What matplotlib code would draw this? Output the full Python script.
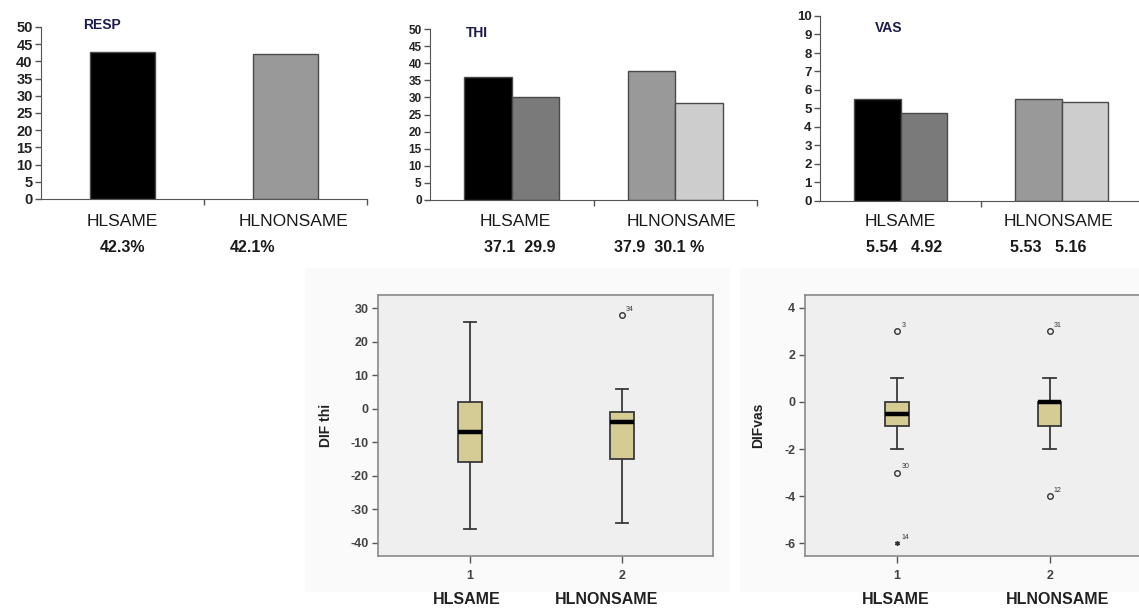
import matplotlib
matplotlib.use("Agg")
import matplotlib.pyplot as plt
from matplotlib.transforms import blended_transform_factory
from matplotlib.patches import Rectangle

plt.rcParams['font.family'] = ['Liberation Sans', 'DejaVu Sans']

# ---------------- data ----------------
groups = ['HLSAME', 'HLNONSAME']

resp_values = [42.7, 42.2]
resp_texts = ['42.3%', '42.1%']

thi_before = [36.0, 37.7]
thi_after = [30.1, 28.4]
thi_texts = ['37.1  29.9', '37.9  30.1 %']

vas_before = [5.5, 5.5]
vas_after = [4.76, 5.35]
vas_texts = ['5.54   4.92', '5.53   5.16']

box_ticklabels = ['1', '2']

thi_q1 = [-16, -15]
thi_med = [-7, -4]
thi_q3 = [2, -1]
thi_whislo = [-36, -34]
thi_whishi = [26, 6]
thi_outliers = [[], [28]]
thi_outlier_ids = [[], ['34']]
thi_extremes = [[], []]
thi_extreme_ids = [[], []]

vas_q1 = [-1, -1]
vas_med = [-0.5, 0]
vas_q3 = [0, 0]
vas_whislo = [-2, -2]
vas_whishi = [1, 1]
vas_outliers = [[3, -3], [3, -4]]
vas_outlier_ids = [['3', '30'], ['31', '12']]
vas_extremes = [[-6], []]
vas_extreme_ids = [['14'], []]

# ---------------- figure ----------------
W, H = 1139, 609
fig = plt.figure(figsize=(W / 100, H / 100), dpi=100)
fig.patch.set_facecolor('white')


def px_axes(x0, y_top, x1, y_bot):
    return fig.add_axes([x0 / W, 1 - y_bot / H, (x1 - x0) / W, (y_bot - y_top) / H])


BLACK = '#000000'
DARK = '#7a7a7a'
MID = '#999999'
LIGHT = '#cdcdcd'
EDGE = '#4a4a4a'
TITLE_C = '#1c1c4c'


def style_bar_axes(ax, ymax, step, tick_fs):
    ax.set_xlim(-0.5, 1.5)
    ax.set_ylim(0, ymax)
    for s in ['top', 'right']:
        ax.spines[s].set_visible(False)
    ax.spines['left'].set_bounds(0, ymax)
    ax.spines['left'].set_color('#555555')
    ax.spines['bottom'].set_color('#555555')
    ax.set_yticks(range(0, ymax + 1, step))
    ax.tick_params(axis='y', direction='out', length=4, width=1, color='#555555',
                   labelsize=tick_fs, pad=2)
    for lb in ax.get_yticklabels():
        lb.set_fontweight('bold')
        lb.set_color('#222222')
    ax.set_xticks([0.5, 1.5])
    ax.set_xticklabels([])
    ax.tick_params(axis='x', direction='out', length=4, width=1, color='#555555')
    ax.set_facecolor('none')


def label_groups(ax, xs_name, xs_val, names, vals, fs_name=12.5, fs_val=11.5):
    tr = blended_transform_factory(ax.transData, fig.transFigure)
    for x, n in zip(xs_name, names):
        ax.text(x, 1 - 222 / H, n, transform=tr, ha='center', va='center',
                fontsize=fs_name, color='#1a1a1a', clip_on=False)
    for x, v in zip(xs_val, vals):
        ax.text(x, 1 - 247 / H, v, transform=tr, ha='center', va='center',
                fontsize=fs_val, fontweight='bold', color='#1a1a1a', clip_on=False)


# ---- RESP ----
ax1 = px_axes(41, 27, 367, 199)
style_bar_axes(ax1, 50, 5, 10.5)
ax1.bar([0, 1], resp_values, width=0.4, color=[BLACK, MID], edgecolor=EDGE, linewidth=1)
ax1.text(83 / W, 1 - 25 / H, 'RESP', transform=fig.transFigure, ha='left', va='center',
         fontsize=10, fontweight='bold', color=TITLE_C)
label_groups(ax1, [0, 1.05], [0, 0.8], groups, resp_texts)

# ---- THI ----
ax2 = px_axes(430, 29, 757, 200)
style_bar_axes(ax2, 50, 5, 8.5)
bw = 0.29
ax2.bar([0 - bw / 2, 1 - bw / 2], thi_before, width=bw, color=[BLACK, MID],
        edgecolor=EDGE, linewidth=1)
ax2.bar([0 + bw / 2, 1 + bw / 2], thi_after, width=bw, color=[DARK, LIGHT],
        edgecolor=EDGE, linewidth=1)
ax2.text(466 / W, 1 - 33 / H, 'THI', transform=fig.transFigure, ha='left', va='center',
         fontsize=10, fontweight='bold', color=TITLE_C)
label_groups(ax2, [0.02, 1.04], [0.05, 0.9], groups, thi_texts)

# ---- VAS ----
ax3 = px_axes(820, 16, 1142, 201)
style_bar_axes(ax3, 10, 1, 9.5)
ax3.bar([0 - bw / 2, 1 - bw / 2], vas_before, width=bw, color=[BLACK, MID],
        edgecolor=EDGE, linewidth=1)
ax3.bar([0 + bw / 2, 1 + bw / 2], vas_after, width=bw, color=[DARK, LIGHT],
        edgecolor=EDGE, linewidth=1)
ax3.text(875 / W, 1 - 28 / H, 'VAS', transform=fig.transFigure, ha='left', va='center',
         fontsize=10, fontweight='bold', color=TITLE_C)
label_groups(ax3, [0, 0.98], [0.02, 0.92], groups, vas_texts)

# ---- faint background panels for box plots ----
bg1 = Rectangle((305 / W, 1 - 592 / H), 425 / W, 324 / H, transform=fig.transFigure,
                facecolor='#fafafa', edgecolor='none', zorder=-10)
bg2 = Rectangle((740 / W, 1 - 592 / H), 410 / W, 324 / H, transform=fig.transFigure,
                facecolor='#fafafa', edgecolor='none', zorder=-10)
fig.patches.extend([bg1, bg2])

BOX_FILL = '#d4cb95'


def draw_box(ax, q1, med, q3, lo, hi, outl, outl_ids, ext, ext_ids, ylim, yticks,
             ylabel, ylabel_x, offs):
    stats = []
    for i in range(2):
        stats.append(dict(med=med[i], q1=q1[i], q3=q3[i], whislo=lo[i], whishi=hi[i],
                          fliers=[]))
    ax.bxp(stats, positions=[1, 2], widths=0.155, patch_artist=True,
           showfliers=False,
           boxprops=dict(facecolor=BOX_FILL, edgecolor='#3a3a3a', linewidth=1.3),
           medianprops=dict(color='black', linewidth=3.2),
           whiskerprops=dict(color='#3a3a3a', linewidth=1.3),
           capprops=dict(color='#3a3a3a', linewidth=1.3),
           capwidths=0.08)
    for i in range(2):
        xs = [i + 1] * len(outl[i])
        ax.plot(xs, outl[i], 'o', ms=4, mfc='none', mec='#333333', mew=1)
        for y, t in zip(outl[i], outl_ids[i]):
            ax.annotate(t, (i + 1, y), xytext=(3, 3), textcoords='offset points',
                        fontsize=5, color='#333333')
        xe = [i + 1] * len(ext[i])
        ax.plot(xe, ext[i], marker=(6, 2, 0), ms=3.5, ls='none', mec='#333333', mew=1)
        for y, t in zip(ext[i], ext_ids[i]):
            ax.annotate(t, (i + 1, y), xytext=(3, 3), textcoords='offset points',
                        fontsize=5, color='#333333')
    ax.set_xlim(0.395, 2.6)
    ax.set_ylim(*ylim)
    ax.set_facecolor('#efefef')
    for s in ax.spines.values():
        s.set_color('#8a8a8a')
        s.set_linewidth(1.2)
    ax.set_yticks(yticks)
    ax.set_yticklabels([str(v) for v in yticks])
    ax.tick_params(axis='y', direction='out', length=4, width=1, color='#555555',
                   labelsize=9, labelcolor='#444444', pad=3)
    for lb in ax.get_yticklabels():
        lb.set_fontweight('bold')
    ax.set_xticks([1, 2])
    ax.set_xticklabels(box_ticklabels)
    ax.tick_params(axis='x', direction='out', length=5, width=1, color='#555555',
                   labelsize=9, labelcolor='#444444', pad=5)
    for lb in ax.get_xticklabels():
        lb.set_fontweight('bold')
    fig.text(ylabel_x / W, 1 - 425 / H, ylabel, rotation=90, ha='center', va='center',
             fontsize=10, fontweight='bold', color='#222222')
    tr = blended_transform_factory(ax.transData, fig.transFigure)
    for x, g in zip(offs, groups):
        ax.text(x, 1 - 600 / H, g, transform=tr, ha='center', va='center', fontsize=11.5,
                fontweight='bold', color='#222222', clip_on=False)


ax4 = px_axes(378, 295, 713, 556)
draw_box(ax4, thi_q1, thi_med, thi_q3, thi_whislo, thi_whishi, thi_outliers,
         thi_outlier_ids, thi_extremes, thi_extreme_ids, (-43.9, 33.9),
         [30, 20, 10, 0, -10, -20, -30, -40], 'DIF thi', 326, [0.98, 1.9])

ax5 = px_axes(805, 295, 1141, 556)
draw_box(ax5, vas_q1, vas_med, vas_q3, vas_whislo, vas_whishi, vas_outliers,
         vas_outlier_ids, vas_extremes, vas_extreme_ids, (-6.55, 4.55),
         [4, 2, 0, -2, -4, -6], 'DIFvas', 758, [0.99, 2.05])

fig.savefig('out.png', dpi=100, facecolor='white')
